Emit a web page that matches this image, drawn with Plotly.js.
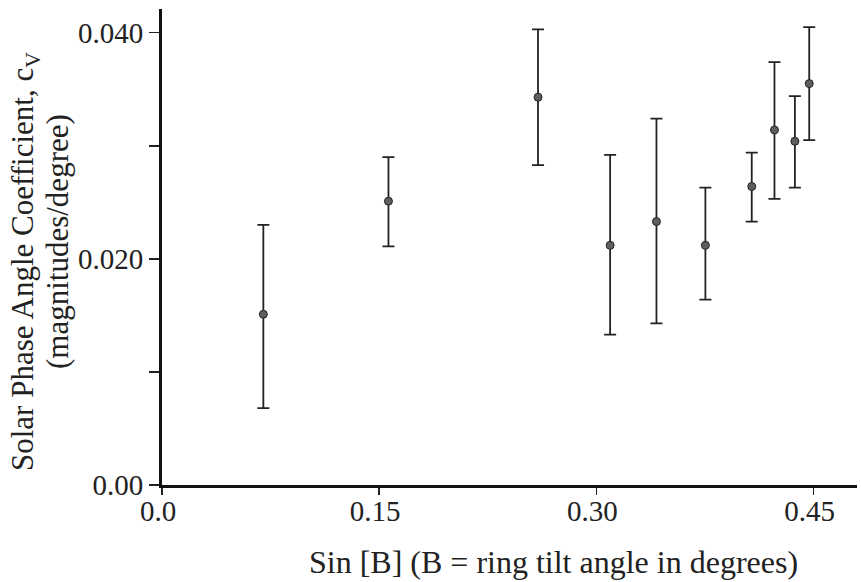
<!DOCTYPE html>
<html>
<head>
<meta charset="utf-8">
<script src="https://cdn.plot.ly/plotly-3.0.1.min.js"></script>
<style>html,body{margin:0;padding:0;background:#fff;}#chart{width:861px;height:582px;}</style>
</head>
<body>
<div id="chart"></div>
<script>
// Sin[B] values (ring tilt)
const sinB = [0.0700, 0.1564, 0.2597, 0.3095, 0.3415, 0.3753, 0.4073, 0.4230, 0.4371, 0.4470];
// Solar phase angle coefficient c_V (magnitudes/degree)
const coeff = [0.0151, 0.0251, 0.0343, 0.0212, 0.0233, 0.0212, 0.0264, 0.0314, 0.0304, 0.0355];
// Error bar upper and lower ends
const upperEnd = [0.0230, 0.0290, 0.0403, 0.0292, 0.0324, 0.0263, 0.0294, 0.0374, 0.0344, 0.0405];
const lowerEnd = [0.0068, 0.0211, 0.0283, 0.0133, 0.0143, 0.0164, 0.0233, 0.0253, 0.0263, 0.0305];
// Tick labels
const xTickVals = [0, 0.15, 0.30, 0.45];
const xTickText = ["0.0", "0.15", "0.30", "0.45"];
const yTickVals = [0, 0.02, 0.04];
const yTickText = ["0.00", "0.020", "0.040"];
const yMinorVals = [0.01, 0.03];

const errPlus = coeff.map((v, i) => upperEnd[i] - v);
const errMinus = coeff.map((v, i) => v - lowerEnd[i]);

const serif = "Liberation Serif, Times New Roman, serif";

const trace = {
  type: "scatter",
  mode: "markers",
  x: sinB,
  y: coeff,
  marker: {size: 8, color: "#5e5e5e", line: {color: "#222", width: 1}},
  error_y: {
    type: "data", symmetric: false,
    array: errPlus, arrayminus: errMinus,
    color: "#222", thickness: 1.8, width: 6, visible: true
  },
  cliponaxis: false,
  hoverinfo: "x+y"
};

const layout = {
  width: 861, height: 582,
  margin: {l: 162, r: 4, t: 9, b: 97},
  paper_bgcolor: "#fff", plot_bgcolor: "#fff",
  showlegend: false,
  font: {family: serif, color: "#222", size: 29},
  xaxis: {
    range: [0, 0.48], showgrid: false, zeroline: false,
    showline: true, linecolor: "#111", linewidth: 2.5,
    ticks: "outside", ticklen: 7, tickwidth: 1.5, tickcolor: "#222",
    tickmode: "array", tickvals: xTickVals, ticktext: xTickText,
    ticklabelstandoff: -8, ticklabelshift: -4,
    tickfont: {family: serif, size: 29, color: "#222"}
  },
  yaxis: {
    range: [0, 0.0421], showgrid: false, zeroline: false,
    showline: true, linecolor: "#111", linewidth: 3,
    ticks: "outside", ticklen: 10, tickwidth: 1.5, tickcolor: "#222",
    tickmode: "array", tickvals: yTickVals, ticktext: yTickText,
    tickfont: {family: serif, size: 29, color: "#222"},
    minor: {tickmode: "array", tickvals: yMinorVals, ticks: "outside", ticklen: 10, tickwidth: 1.5, tickcolor: "#222", showgrid: false}
  },
  annotations: [
    {
      xref: "paper", yref: "paper", x: 0.5626, y: -0.1618,
      xanchor: "center", yanchor: "middle", showarrow: false,
      text: "Sin [B] (B = ring tilt angle in degrees)",
      font: {family: serif, size: 32, color: "#222"}
    },
    {
      xref: "paper", yref: "paper", x: -0.1971, y: 0.4685,
      xanchor: "center", yanchor: "middle", showarrow: false, textangle: -90,
      text: "Solar Phase Angle Coefficient, c<sub>V</sub>",
      font: {family: serif, size: 31, color: "#222"}
    },
    {
      xref: "paper", yref: "paper", x: -0.1511, y: 0.5126,
      xanchor: "center", yanchor: "middle", showarrow: false, textangle: -90,
      text: "(magnitudes/degree)",
      font: {family: serif, size: 31, color: "#222"}
    }
  ]
};

Plotly.newPlot("chart", [trace], layout, {staticPlot: true, displayModeBar: false});
</script>
</body>
</html>
